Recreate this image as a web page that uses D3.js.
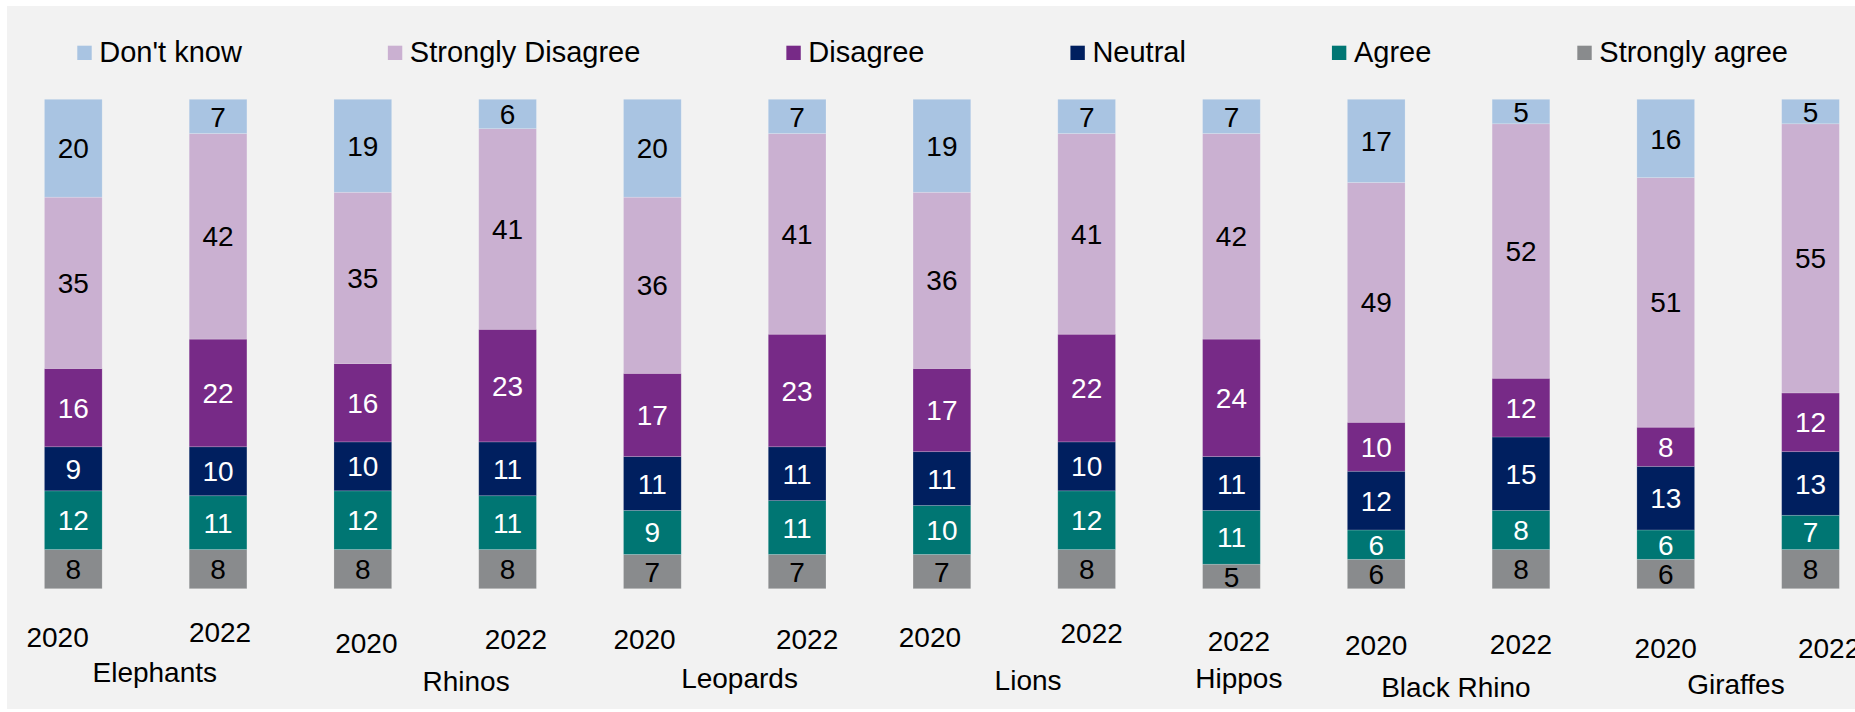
<!DOCTYPE html>
<html>
<head>
<meta charset="utf-8">
<script src="https://cdn.jsdelivr.net/npm/d3@7/dist/d3.min.js"></script>
<style>
  html, body { margin: 0; padding: 0; background: #ffffff; }
  svg { display: block; }
  text { font-family: "Liberation Sans", Arial, Helvetica, sans-serif; }
</style>
</head>
<body>
<svg id="chart" width="1855" height="712"></svg>
<script>
// Survey responses (%) by species and survey year
const groups = ["Elephants", "Elephants", "Rhinos", "Rhinos", "Leopards", "Leopards",
                "Lions", "Lions", "Hippos", "Black Rhino", "Black Rhino", "Giraffes", "Giraffes"];
const years  = ["2020", "2022", "2020", "2022", "2020", "2022",
                "2020", "2022", "2022", "2020", "2022", "2020", "2022"];

const seriesNames = ["Don't know", "Strongly Disagree", "Disagree", "Neutral", "Agree", "Strongly agree"];

const dontKnow         = [20, 7, 19, 6, 20, 7, 19, 7, 7, 17, 5, 16, 5];
const stronglyDisagree = [35, 42, 35, 41, 36, 41, 36, 41, 42, 49, 52, 51, 55];
const disagree         = [16, 22, 16, 23, 17, 23, 17, 22, 24, 10, 12, 8, 12];
const neutral          = [9, 10, 10, 11, 11, 11, 11, 10, 11, 12, 15, 13, 13];
const agree            = [12, 11, 12, 11, 9, 11, 10, 12, 11, 6, 8, 6, 7];
const stronglyAgree    = [8, 8, 8, 8, 7, 7, 7, 8, 5, 6, 8, 6, 8];

// ---- styling ----
const colors = {
  "Don't know":        "#a9c4e2",
  "Strongly Disagree": "#cab0d1",
  "Disagree":          "#772a87",
  "Neutral":           "#001f5f",
  "Agree":             "#007673",
  "Strongly agree":    "#898b8d"
};
const labelColor = {
  "Don't know": "#000", "Strongly Disagree": "#000", "Disagree": "#fff",
  "Neutral": "#fff", "Agree": "#fff", "Strongly agree": "#000"
};

// hand-placed category labels: [dx, dy] from the default spot
const yearLabelNudge = [[-15.7, -2.7], [2, -7.7], [3.5, 3.3], [8.3, -0.7], [-7.8, -0.7], [10, -0.7],
                        [-12, -2.7], [5, -6.7], [7.4, 0.7], [0, 5], [0, 4], [0, 8.3], [18.6, 8.3]];
const groupLabelNudge = {
  "Elephants": [9.1, -8], "Rhinos": [30.9, 1], "Leopards": [14.8, -1.7], "Lions": [13.8, 0],
  "Hippos": [7.4, -1.7], "Black Rhino": [7.3, 7.3], "Giraffes": [-2.2, 4.3]
};

// ---- data table ----
const seriesValues = [dontKnow, stronglyDisagree, disagree, neutral, agree, stronglyAgree];
const rows = groups.map((g, i) => {
  const r = { id: i, group: g, year: years[i] };
  seriesNames.forEach((s, k) => { r[s] = seriesValues[k][i]; });
  return r;
});

// bottom-up stacking order
const stackOrder = ["Strongly agree", "Agree", "Neutral", "Disagree", "Strongly Disagree", "Don't know"];
const stacked = d3.stack().keys(stackOrder)(rows);

const svg = d3.select("#chart");

// panel background
svg.append("rect").attr("x", 7).attr("y", 6).attr("width", 1855 - 7).attr("height", 709 - 6)
  .attr("fill", "#f2f2f2");

const x = d3.scaleBand()
  .domain(rows.map(d => d.id))
  .range([0.9, 1882.9])
  .paddingInner(0.6014)
  .paddingOuter(0.3007);

const y = d3.scaleLinear().domain([0, 100]).range([588.7, 99.3]);

// bars
const layer = svg.append("g").selectAll("g")
  .data(stacked)
  .join("g")
  .attr("fill", d => colors[d.key]);

layer.selectAll("rect")
  .data(d => d.map(p => ({ key: d.key, p })))
  .join("rect")
  .attr("x", d => x(d.p.data.id))
  .attr("width", x.bandwidth())
  .attr("y", d => y(d.p[1]))
  .attr("height", d => y(d.p[0]) - y(d.p[1]))
  .attr("stroke", "rgba(255,255,255,0.22)")
  .attr("stroke-width", 0.8);

// value labels
layer.selectAll("text")
  .data(d => d.map(p => ({ key: d.key, p })))
  .join("text")
  .attr("x", d => x(d.p.data.id) + x.bandwidth() / 2)
  .attr("y", d => (y(d.p[0]) + y(d.p[1])) / 2)
  .attr("dy", "0.36em")
  .attr("text-anchor", "middle")
  .attr("font-size", 28)
  .attr("fill", d => labelColor[d.key])
  .text(d => d.p.data[d.key]);

// year labels
svg.append("g").selectAll("text")
  .data(rows)
  .join("text")
  .attr("x", d => x(d.id) + x.bandwidth() / 2 + yearLabelNudge[d.id][0])
  .attr("y", d => 650 + yearLabelNudge[d.id][1])
  .attr("text-anchor", "middle")
  .attr("font-size", 28)
  .attr("fill", "#000")
  .text(d => d.year);

// species labels, centred under their bars
const groupNames = Array.from(new Set(groups));
svg.append("g").selectAll("text")
  .data(groupNames)
  .join("text")
  .attr("x", g => {
    const ids = rows.filter(r => r.group === g).map(r => x(r.id) + x.bandwidth() / 2);
    return d3.mean(ids) + groupLabelNudge[g][0];
  })
  .attr("y", g => 690 + groupLabelNudge[g][1])
  .attr("text-anchor", "middle")
  .attr("font-size", 28)
  .attr("fill", "#000")
  .text(g => g);

// legend, laid out left to right
const legend = svg.append("g");
let lx = 77.3;
seriesNames.forEach(name => {
  const item = legend.append("g").attr("transform", `translate(${lx},0)`);
  item.append("rect").attr("x", 0).attr("y", 45.7).attr("width", 14.4).attr("height", 14.3)
    .attr("fill", colors[name]);
  const t = item.append("text").attr("x", 22).attr("y", 62.2)
    .attr("font-size", 29).attr("fill", "#000").text(name);
  lx += 22 + t.node().getComputedTextLength() + 146;
});
</script>
</body>
</html>
